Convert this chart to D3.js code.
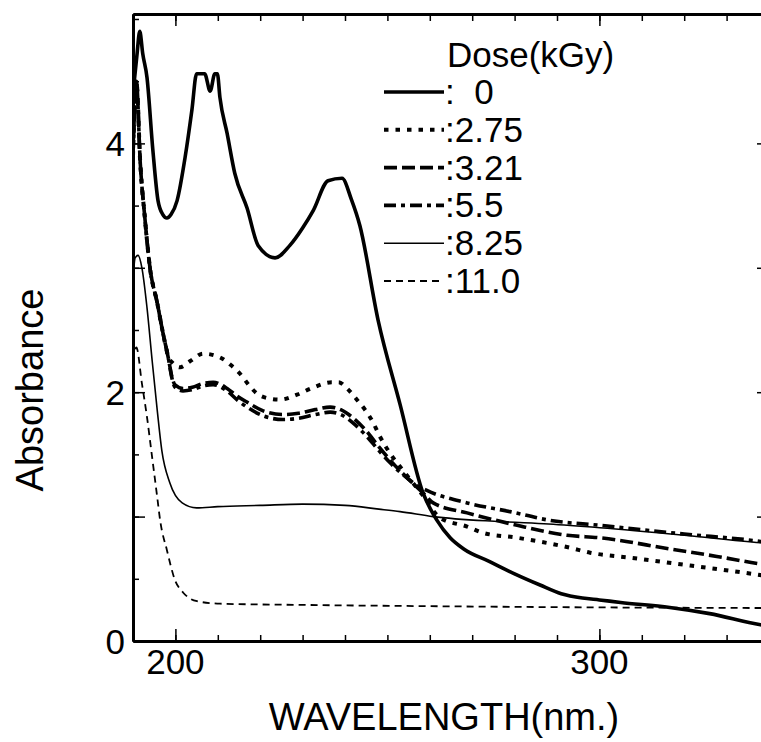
<!DOCTYPE html>
<html>
<head>
<meta charset="utf-8">
<script src="https://cdn.jsdelivr.net/npm/d3@7"></script>
<style>
  body { margin: 0; background: #fff; }
  text { font-family: "Liberation Sans", Arial, sans-serif; fill: #000; }
</style>
</head>
<body>
<div id="chart"></div>
<script>
// absorbance spectra, [wavelength nm, absorbance], one array per dose
const dose0 = [[190, 4.4], [190.9, 4.7], [191.6, 4.9], [192.3, 4.72], [193.3, 4.53], [194.7, 3.94], [195.9, 3.54],
  [197, 3.43], [198, 3.40], [199, 3.43], [200.4, 3.54], [202.3, 3.89], [203.9, 4.27], [205, 4.56], [206.9, 4.56],
  [208.2, 4.42], [209.3, 4.56], [209.9, 4.56], [210.5, 4.37], [212.2, 4.08], [214, 3.76], [216.9, 3.48], [219.5, 3.18],
  [223.5, 3.08], [227, 3.18], [230, 3.32], [232.5, 3.46], [236, 3.70], [239.3, 3.72], [241.5, 3.55], [243.5, 3.34],
  [247.8, 2.58], [253, 1.90], [258.4, 1.19], [261.7, 0.97], [264.8, 0.83], [268, 0.74], [274, 0.64], [280, 0.54],
  [286, 0.45], [291, 0.38], [296, 0.345], [300, 0.33], [305, 0.31], [316.6, 0.27], [326, 0.22], [338, 0.13], [340, 0.12]];
const dose275 = [[190, 3.9], [190.8, 4.5], [191.7, 3.85], [192.8, 3.4], [194, 3.0], [195.7, 2.72], [197.1, 2.47],
  [198.3, 2.29], [199.5, 2.23], [201.1, 2.20], [203.5, 2.25], [206.5, 2.31], [210.5, 2.28], [213, 2.22], [215.2, 2.15],
  [217.5, 2.05], [219.2, 1.99], [222, 1.95], [224.7, 1.94], [228.7, 1.98], [232, 2.03], [236.9, 2.08], [238.5, 2.08],
  [240.5, 2.03], [242.8, 1.94], [244.7, 1.86], [246.4, 1.77], [248.3, 1.64], [250.6, 1.51], [253, 1.40], [255.8, 1.28],
  [258.4, 1.17], [262.4, 0.99], [268.8, 0.92], [272.5, 0.87], [280.6, 0.83], [293, 0.75], [297.8, 0.71], [307.2, 0.67],
  [320.7, 0.61], [336, 0.54], [340, 0.52]];
const dose321 = [[190, 3.9], [190.8, 4.5], [191.7, 3.85], [192.8, 3.4], [194, 3.0], [195.7, 2.72], [197.1, 2.47],
  [198.3, 2.28], [199.2, 2.12], [199.9, 2.06], [201.8, 2.03], [204, 2.04], [206.5, 2.07], [208.9, 2.08], [212.2, 2.03],
  [214.5, 1.97], [216.9, 1.92], [220.7, 1.85], [225.4, 1.82], [229, 1.83], [233, 1.86], [236.5, 1.88], [239, 1.86],
  [242, 1.79], [245, 1.69], [248, 1.56], [251, 1.44], [255, 1.30], [258.4, 1.19], [260.8, 1.11], [268.8, 1.03],
  [280.6, 0.93], [292.4, 0.85], [300.1, 0.83], [316.6, 0.74], [327.7, 0.68], [337.9, 0.62], [340, 0.61]];
const dose55 = [[190, 3.9], [190.8, 4.5], [191.7, 3.85], [192.8, 3.4], [194, 3.0], [195.7, 2.72], [197.1, 2.47],
  [198.3, 2.28], [199.2, 2.11], [199.9, 2.04], [201.8, 2.01], [204, 2.02], [206.5, 2.05], [208.9, 2.06], [212.2, 2.01],
  [214.5, 1.94], [216.9, 1.88], [220.7, 1.81], [225.4, 1.78], [229, 1.79], [233, 1.82], [236.5, 1.84], [239, 1.82],
  [242, 1.75], [245, 1.65], [248, 1.53], [251, 1.42], [255, 1.30], [257, 1.25], [259.3, 1.21], [268.8, 1.11],
  [278.9, 1.04], [288.3, 0.97], [300.1, 0.93], [320, 0.86], [338, 0.80], [340, 0.79]];
const dose825 = [[190, 2.9], [190.5, 3.08], [191.2, 3.1], [192.1, 3.0], [193.3, 2.68], [194.5, 2.26], [195.7, 1.86],
  [196.8, 1.53], [198.7, 1.27], [201.6, 1.11], [205, 1.07], [210, 1.08], [220, 1.09], [230, 1.10], [240, 1.09],
  [248, 1.06], [253, 1.04], [260.8, 1.00], [276.6, 0.96], [288, 0.94], [300.1, 0.91], [320, 0.85], [338, 0.79], [340, 0.785]];
const dose110 = [[190, 2.25], [190.8, 2.36], [192.1, 2.07], [193.3, 1.80], [194.5, 1.48], [195.7, 1.16], [196.4, 0.97],
  [198, 0.73], [199.9, 0.49], [201.8, 0.39], [203.5, 0.34], [205.1, 0.32], [210.5, 0.30], [230, 0.29], [260, 0.28],
  [300, 0.27], [340, 0.265]];

const doseLabels = ['0', '2.75', '3.21', '5.5', '8.25', '11.0'];
const yTickLabels = [0, 2, 4];
const xTickLabels = [200, 300];

const series = [dose0, dose275, dose321, dose55, dose825, dose110];
// line look per dose: width, dash
const styles = [
  { w: 3.6, dash: null },
  { w: 4, dash: '4.5,7' },
  { w: 3.6, dash: '13,5' },
  { w: 3.6, dash: '12,5,4,5' },
  { w: 1.6, dash: null },
  { w: 1.8, dash: '7,5' }
];

const width = 761, height = 742;
const margin = { top: 14, left: 133, bottom: 101 };

const svg = d3.select('#chart').append('svg')
  .attr('width', width)
  .attr('height', height);

svg.append('rect').attr('width', width).attr('height', height).attr('fill', '#fff');

const x = d3.scaleLinear().domain([190, 340]).range([margin.left, 769]);
const y = d3.scaleLinear().domain([0, 5.04]).range([height - margin.bottom, margin.top]);

svg.append('clipPath').attr('id', 'plot')
  .append('rect')
  .attr('x', x(190)).attr('y', y(5.04))
  .attr('width', x(340) - x(190)).attr('height', y(0) - y(5.04));

const line = d3.line()
  .x(d => x(d[0]))
  .y(d => y(d[1]))
  .curve(d3.curveMonotoneX);

svg.append('g').attr('clip-path', 'url(#plot)')
  .selectAll('path')
  .data(series)
  .enter().append('path')
  .attr('d', line)
  .attr('fill', 'none')
  .attr('stroke', '#000')
  .attr('stroke-width', (d, i) => styles[i].w)
  .attr('stroke-dasharray', (d, i) => styles[i].dash)
  .attr('stroke-linejoin', 'round');

/* frame: ticks point into the plot on all four sides */
const minorX = d3.range(190, 341, 10), majorX = [200, 300];
const minorY = d3.range(0, 5.01, 0.5), majorY = [1, 2, 3, 4];

function frameAxis(axis, tx, ty) {
  const g = svg.append('g').attr('transform', 'translate(' + tx + ',' + ty + ')').call(axis);
  g.selectAll('text').remove();
  g.select('.domain').attr('stroke-width', 3);
  g.selectAll('.tick line').attr('stroke-width', 1.5);
  return g;
}

frameAxis(d3.axisTop(x).tickValues(minorX).tickSize(6).tickSizeOuter(0), 0, y(0));
frameAxis(d3.axisTop(x).tickValues(majorX).tickSize(12).tickSizeOuter(0), 0, y(0));
frameAxis(d3.axisBottom(x).tickValues(minorX).tickSize(7).tickSizeOuter(0), 0, y(5.04));
frameAxis(d3.axisBottom(x).tickValues(majorX).tickSize(12).tickSizeOuter(0), 0, y(5.04));
frameAxis(d3.axisRight(y).tickValues(minorY).tickSize(6).tickSizeOuter(0), x(190), 0);
frameAxis(d3.axisRight(y).tickValues(majorY).tickSize(12).tickSizeOuter(0), x(190), 0);
frameAxis(d3.axisLeft(y).tickValues(minorY).tickSize(6).tickSizeOuter(0), x(340), 0);
frameAxis(d3.axisLeft(y).tickValues(majorY).tickSize(12).tickSizeOuter(0), x(340), 0);

// tick labels
svg.selectAll('.ylab').data(yTickLabels).enter().append('text')
  .attr('class', 'ylab')
  .attr('x', x(190) - 8)
  .attr('y', d => y(d) + 13)
  .attr('text-anchor', 'end')
  .style('font-size', '35px')
  .text(d => d);

svg.selectAll('.xlab').data(xTickLabels).enter().append('text')
  .attr('class', 'xlab')
  .attr('x', d => x(d))
  .attr('y', y(0) + 33)
  .attr('text-anchor', 'middle')
  .style('font-size', '35px')
  .text(d => d);

svg.append('text')
  .attr('x', 444).attr('y', 730)
  .attr('text-anchor', 'middle')
  .style('font-size', '38px')
  .text('WAVELENGTH(nm.)');

svg.append('text')
  .attr('transform', 'translate(43,390) rotate(-90)')
  .attr('text-anchor', 'middle')
  .style('font-size', '38px')
  .text('Absorbance');

/* legend */
const legend = svg.append('g');
legend.append('text')
  .attr('x', 447).attr('y', 67)
  .style('font-size', '35px')
  .text('Dose(kGy)');

const rows = legend.selectAll('.row').data(doseLabels).enter().append('g')
  .attr('class', 'row')
  .attr('transform', (d, i) => 'translate(0,' + (104 + i * 37.8) + ')');

rows.append('line')
  .attr('x1', 384).attr('x2', 444)
  .attr('y1', -12).attr('y2', -12)
  .attr('stroke', '#000')
  .attr('stroke-width', (d, i) => styles[i].w)
  .attr('stroke-dasharray', (d, i) => styles[i].dash);

rows.append('text')
  .attr('x', 445)
  .style('font-size', '35px')
  .text(d => ':' + (d === '0' ? '\u2007' : '') + d);
</script>
</body>
</html>
